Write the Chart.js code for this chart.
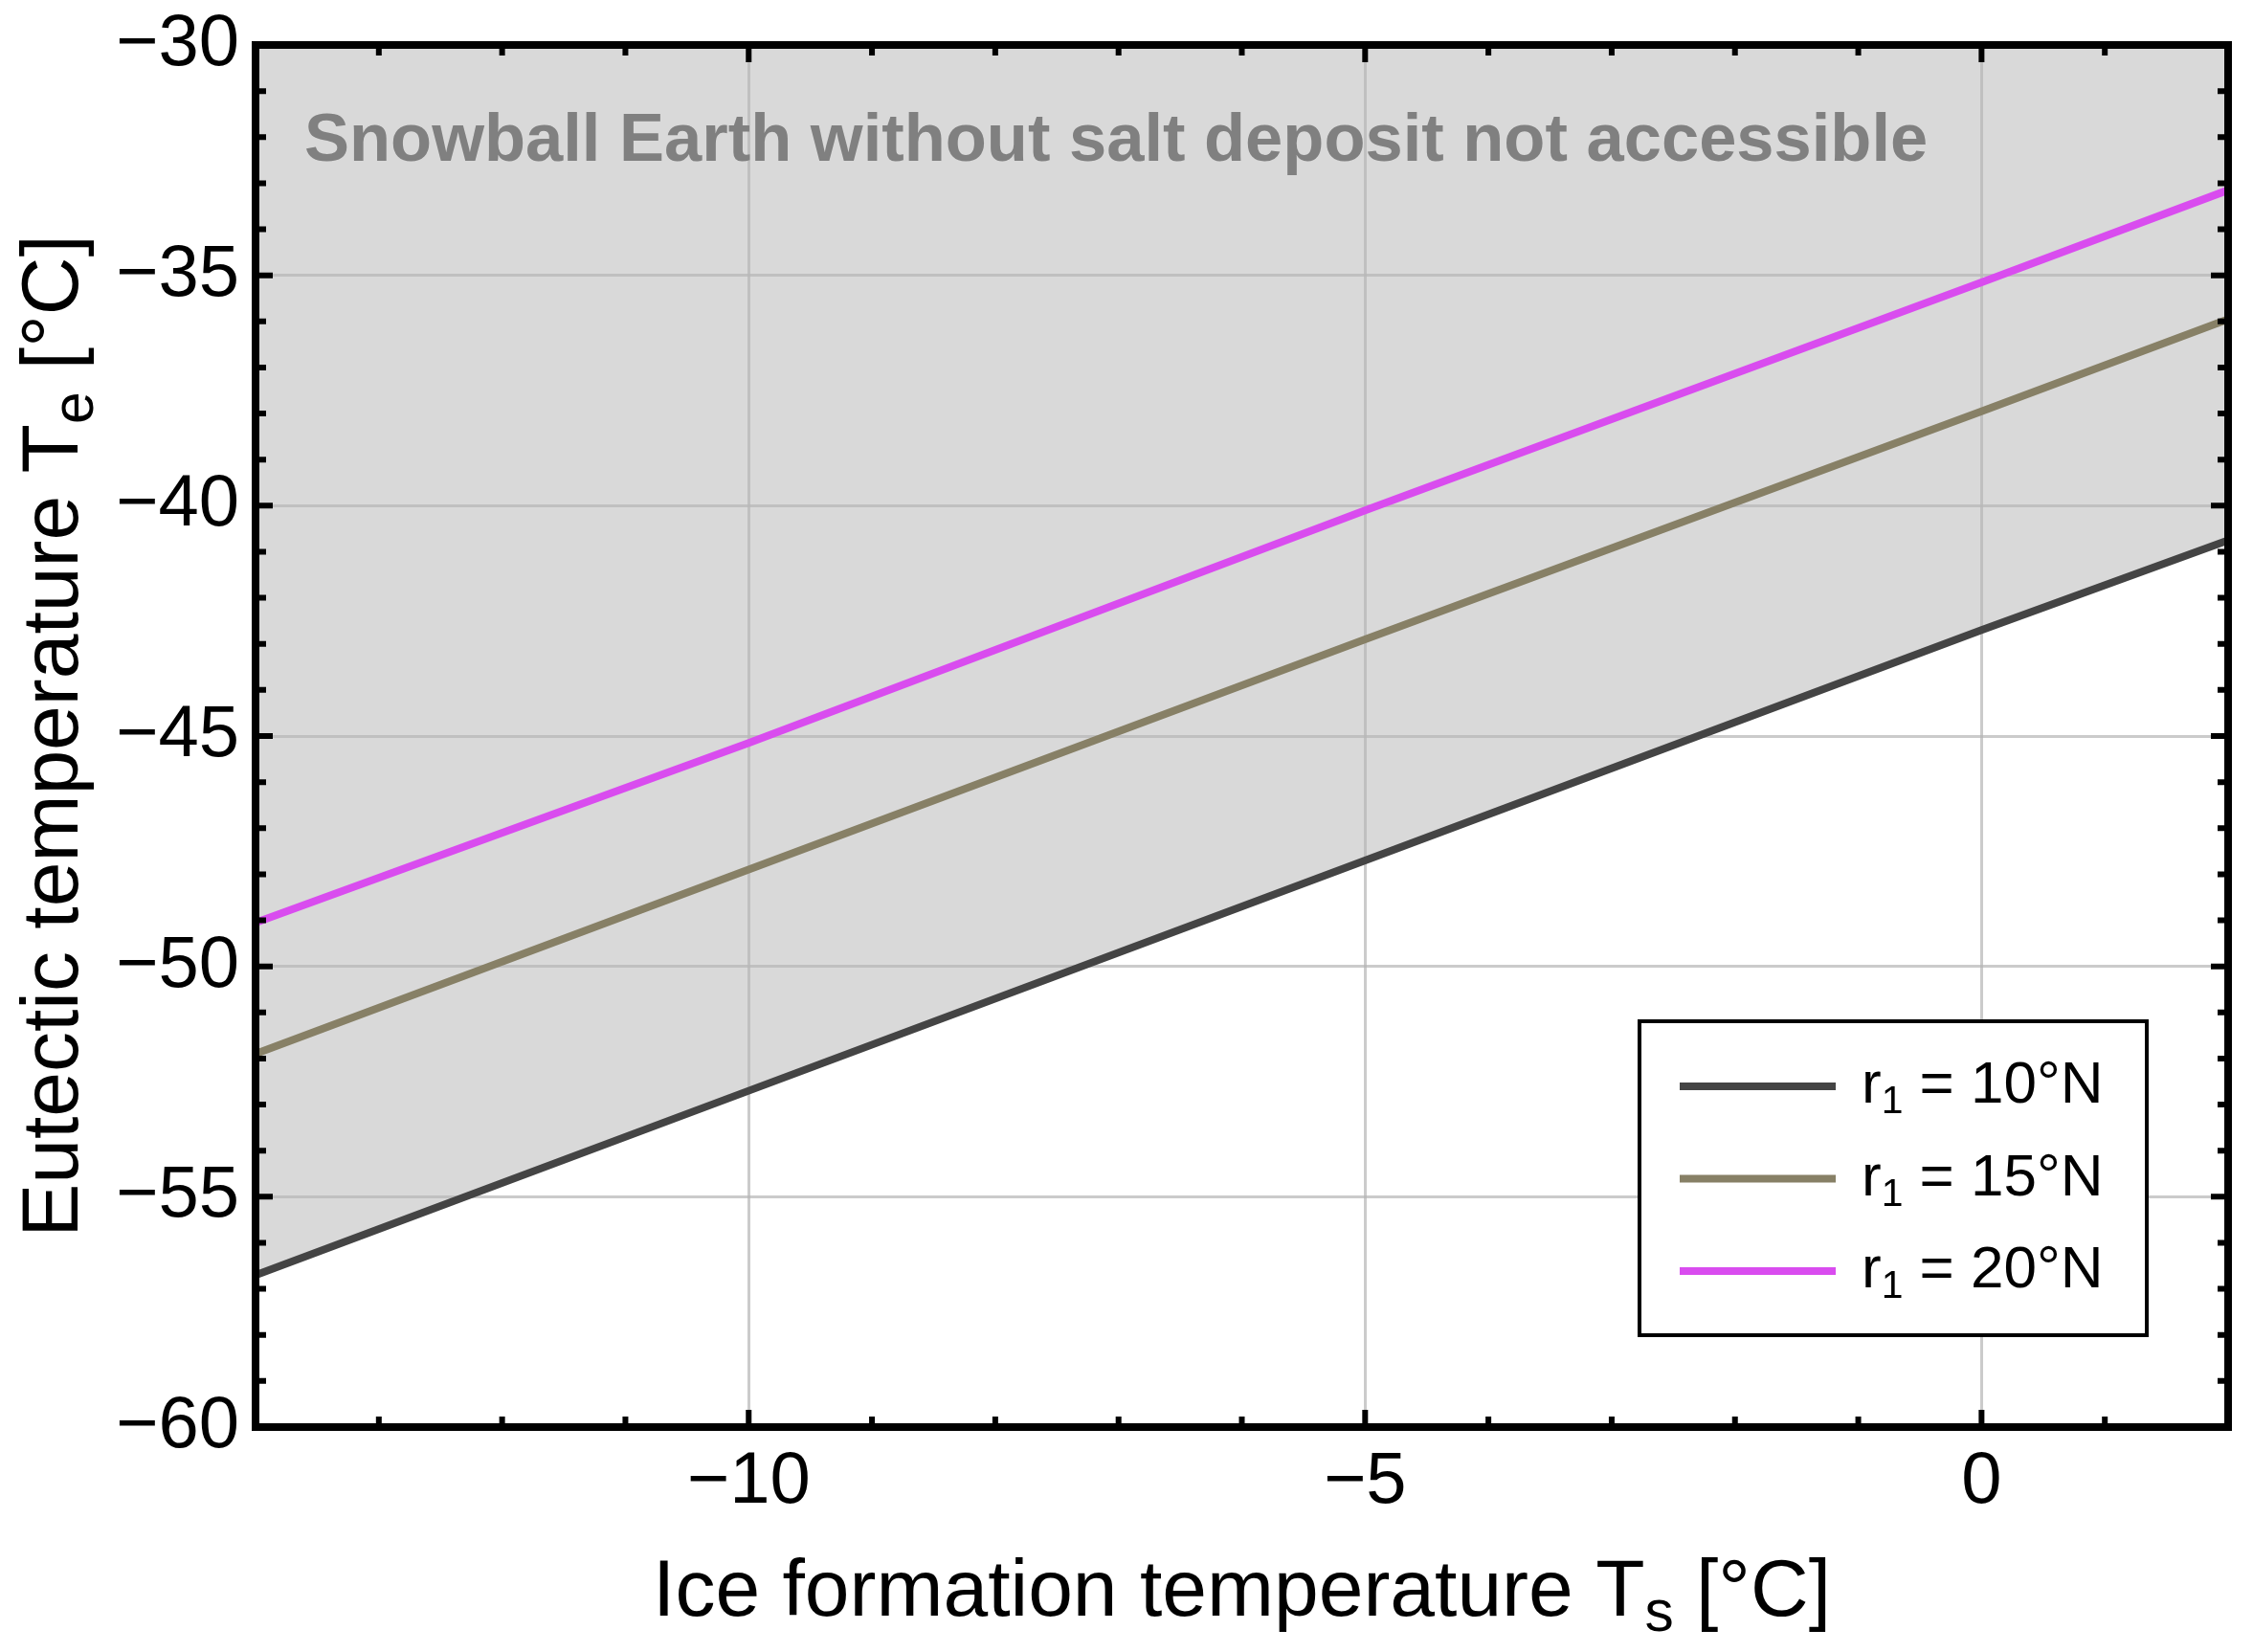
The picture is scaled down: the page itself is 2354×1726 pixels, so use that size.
<!DOCTYPE html>
<html><head><meta charset="utf-8">
<script src="https://cdn.jsdelivr.net/npm/chart.js@4.4.1/dist/chart.umd.min.js"></script>
<style>html,body{margin:0;padding:0;background:#fff}</style>
</head><body>
<canvas id="c" width="2354" height="1726" style="width:2354px;height:1726px;display:block"></canvas>
<script>
// ---- data ----
const xValues = [-14, -10, -5, 0, 2];
const te10N = [-56.7, -52.7, -47.7, -42.7, -40.75];
const te15N = [-51.9, -47.9, -42.9, -37.95, -35.95];
const te20N = [-49.05, -45.15, -40.1, -35.15, -33.15];
const seriesLabels = ['r_1 = 10°N', 'r_1 = 15°N', 'r_1 = 20°N'];
const seriesColors = ['#444444', '#878066', '#d94cef'];
const xTickValues = [-10, -5, 0];
const yTickValues = [-60, -55, -50, -45, -40, -35, -30];
const xTitle = 'Ice formation temperature T_s [°C]';
const yTitle = 'Eutectic temperature T_e [°C]';
const regionNote = 'Snowball Earth without salt deposit not accessible';

const FONT = "'Liberation Sans', Arial, Helvetica, sans-serif";
const fmt = v => String(v).replace('-', '\u2212');
const pts = ys => xValues.map((x, i) => ({x: x, y: ys[i]}));

function parseRich(t) {
  const segs = []; let buf = '';
  for (let i = 0; i < t.length; i++) {
    if (t[i] === '_') { if (buf) segs.push({t: buf, sub: false}); buf = ''; segs.push({t: t[i + 1], sub: true}); i++; }
    else buf += t[i];
  }
  if (buf) segs.push({t: buf, sub: false});
  return segs;
}
function drawRich(ctx, text, x, y, size, weight, align, color, subScale, subDrop) {
  const segs = parseRich(text);
  let w = 0;
  segs.forEach(s => { ctx.font = `${weight} ${s.sub ? size * subScale : size}px ${FONT}`; s.w = ctx.measureText(s.t).width; w += s.w; });
  let cx = align === 'center' ? x - w / 2 : x;
  ctx.fillStyle = color; ctx.textBaseline = 'alphabetic'; ctx.textAlign = 'left';
  segs.forEach(s => {
    ctx.font = `${weight} ${s.sub ? size * subScale : size}px ${FONT}`;
    ctx.fillText(s.t, cx, y + (s.sub ? size * subDrop : 0));
    cx += s.w;
  });
  return w;
}

const decor = {
  id: 'decor',
  afterDatasetsDraw(chart) {
    const ctx = chart.ctx, a = chart.chartArea, xs = chart.scales.x, ys = chart.scales.y;
    ctx.save();
    ctx.strokeStyle = '#000'; ctx.lineWidth = 8;
    ctx.strokeRect(a.left, a.top, a.right - a.left, a.bottom - a.top);
    ctx.lineWidth = 6; ctx.lineCap = 'butt';
    ctx.beginPath();
    for (let v = Math.ceil(xs.min); v <= xs.max; v++) {
      const px = xs.getPixelForValue(v);
      const len = (v % 5 === 0) ? 18 : 11;
      ctx.moveTo(px, a.bottom); ctx.lineTo(px, a.bottom - len);
      ctx.moveTo(px, a.top); ctx.lineTo(px, a.top + len);
    }
    for (let v = Math.ceil(ys.min); v <= ys.max; v++) {
      const py = ys.getPixelForValue(v);
      const len = (v % 5 === 0) ? 18 : 11;
      ctx.moveTo(a.left, py); ctx.lineTo(a.left + len, py);
      ctx.moveTo(a.right, py); ctx.lineTo(a.right - len, py);
    }
    ctx.stroke();
    ctx.restore();
  },
  afterDraw(chart) {
    const ctx = chart.ctx, a = chart.chartArea;
    ctx.save();
    ctx.font = `bold 70.5px ${FONT}`;
    ctx.fillStyle = '#808080'; ctx.textAlign = 'left'; ctx.textBaseline = 'alphabetic';
    ctx.fillText(regionNote, 318, 168);
    drawRich(ctx, xTitle, (a.left + a.right) / 2, 1688, 84, 'normal', 'center', '#000', 0.72, 0.19);
    ctx.save();
    ctx.translate(81, (a.top + a.bottom) / 2);
    ctx.rotate(-Math.PI / 2);
    drawRich(ctx, yTitle, 0, 0, 84, 'normal', 'center', '#000', 0.72, 0.19);
    ctx.restore();
    const bx = 1713, by = 1067, bw = 530, bh = 328;
    ctx.fillStyle = '#fff'; ctx.fillRect(bx, by, bw, bh);
    ctx.strokeStyle = '#000'; ctx.lineWidth = 4; ctx.strokeRect(bx, by, bw, bh);
    chart.data.datasets.forEach((ds, i) => {
      const ry = 1135 + i * 96.5;
      ctx.strokeStyle = ds.borderColor; ctx.lineWidth = 8;
      ctx.beginPath(); ctx.moveTo(1755, ry); ctx.lineTo(1918, ry); ctx.stroke();
      drawRich(ctx, ds.label, 1945, ry + 17, 62, 'normal', 'left', '#000', 0.66, 0.18);
    });
    ctx.restore();
  }
};

const gridColor = 'rgba(182,182,182,0.71)';
new Chart(document.getElementById('c'), {
  type: 'scatter',
  data: {
    datasets: [
      {label: seriesLabels[0], data: pts(te10N), borderColor: seriesColors[0], backgroundColor: '#d9d9d9', fill: 'end', showLine: true, borderWidth: 8, pointRadius: 0, tension: 0},
      {label: seriesLabels[1], data: pts(te15N), borderColor: seriesColors[1], showLine: true, borderWidth: 8, pointRadius: 0, fill: false},
      {label: seriesLabels[2], data: pts(te20N), borderColor: seriesColors[2], showLine: true, borderWidth: 8, pointRadius: 0, fill: false}
    ]
  },
  options: {
    responsive: false, animation: false, devicePixelRatio: 1,
    layout: {padding: {left: 0, top: 47, right: 26, bottom: 0}},
    plugins: {legend: {display: false}, tooltip: {enabled: false}, filler: {drawTime: 'beforeDraw'}},
    scales: {
      x: {
        type: 'linear', min: -14, max: 2,
        afterBuildTicks: s => { s.ticks = xTickValues.map(v => ({value: v})); },
        afterFit: s => { s.height = 1726 - 1491; s.paddingLeft = 0; s.paddingRight = 0; },
        grid: {color: gridColor, lineWidth: 3, drawTicks: false},
        border: {display: false},
        ticks: {font: {family: FONT, size: 76}, color: '#000', padding: 12, maxRotation: 0, autoSkip: false, callback: v => fmt(v)}
      },
      y: {
        type: 'linear', min: -60, max: -30,
        afterBuildTicks: s => { s.ticks = yTickValues.map(v => ({value: v})); },
        afterFit: s => { s.width = 267; s.paddingTop = 0; s.paddingBottom = 0; },
        grid: {color: gridColor, lineWidth: 3, drawTicks: false},
        border: {display: false},
        ticks: {font: {family: FONT, size: 76}, color: '#000', padding: 17, autoSkip: false, callback: v => fmt(v)}
      }
    }
  },
  plugins: [decor]
});
</script>
</body></html>
